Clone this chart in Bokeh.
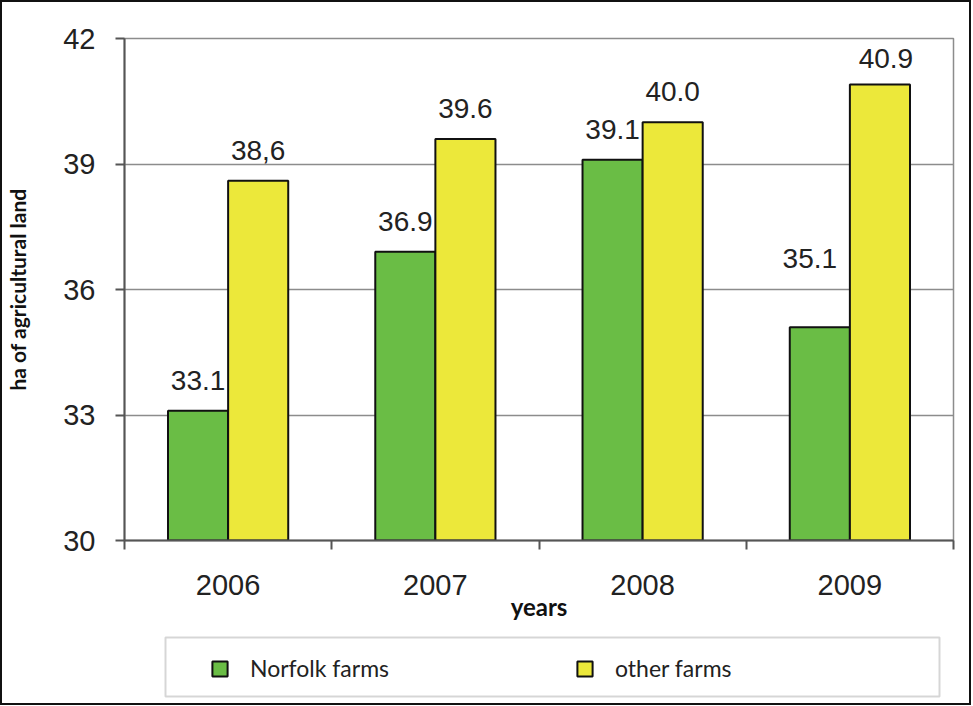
from bokeh.plotting import figure
from bokeh.layouts import column
from bokeh.models import (ColumnDataSource, FixedTicker, LabelSet, Legend, LegendItem,
                          Range1d, BoxAnnotation)
from bokeh.transform import dodge
from bokeh.core.properties import value
from bokeh.embed import file_html
from bokeh.resources import INLINE

# ---- data ----
years = ["2006", "2007", "2008", "2009"]
norfolk = [33.1, 36.9, 39.1, 35.1]
other = [38.6, 39.6, 40.0, 40.9]
norfolk_labels = ["33.1", "36.9", "39.1", "35.1"]
other_labels = ["38,6", "39.6", "40.0", "40.9"]
y_ticks = [30, 33, 36, 39, 42]
series_names = ["Norfolk farms", "other farms"]

# ---- label nudges (px, layout only) ----
norfolk_dx = [0, 0, 0, -10]
norfolk_dy = [21, 21, 21, 59]
other_dx = [0, 0, 0, 6]
other_dy = [21, 21, 21, 17]

GREEN = "#6abd45"
YELLOW = "#ece83a"
GRID = "#8c8c8c"
AXIS = "#555555"
BORDER = "2px solid #111111"

xs = [i + 0.5 for i in range(len(years))]
src = ColumnDataSource(dict(x=xs, norfolk=norfolk, other=other,
                            nl=norfolk_labels, ol=other_labels,
                            ndx=norfolk_dx, ndy=norfolk_dy, odx=other_dx, ody=other_dy))

p = figure(width=971, height=626, output_backend="svg", toolbar_location=None,
           x_range=Range1d(0, len(years)), y_range=Range1d(y_ticks[0], y_ticks[-1]),
           min_border_left=122, min_border_right=20, min_border_top=36, min_border_bottom=88,
           styles={"border-left": BORDER, "border-right": BORDER, "border-top": BORDER})

p.background_fill_color = "white"
p.border_fill_color = "white"
p.outline_line_color = GRID
p.outline_line_width = 1.5

bar_kw = dict(bottom=0, width=0.29, source=src, line_color="#111111", line_width=2)
p.vbar(x=dodge("x", -0.145), top="norfolk", fill_color=GREEN, **bar_kw)
p.vbar(x=dodge("x", 0.145), top="other", fill_color=YELLOW, **bar_kw)

lab_kw = dict(text_font=value("Liberation Sans"), text_font_size="28px", text_color="#222222",
              text_align="center", text_baseline="alphabetic", source=src)
p.add_layout(LabelSet(x=dodge("x", -0.145), y="norfolk", text="nl",
                      x_offset="ndx", y_offset="ndy", **lab_kw))
p.add_layout(LabelSet(x=dodge("x", 0.145), y="other", text="ol",
                      x_offset="odx", y_offset="ody", **lab_kw))

# grid
p.xgrid.visible = False
p.ygrid.ticker = FixedTicker(ticks=y_ticks)
p.ygrid.grid_line_color = GRID
p.ygrid.grid_line_width = 1.5

# y axis
ya = p.yaxis[0]
ya.ticker = FixedTicker(ticks=y_ticks)
ya.axis_label = "ha of agricultural land"
ya.axis_label_text_font = "Lato"
ya.axis_label_text_font_style = "bold"
ya.axis_label_text_font_size = "21px"
ya.axis_label_text_color = "#111111"
ya.axis_label_standoff = 30
ya.major_label_text_font = "Liberation Sans"
ya.major_label_text_font_size = "29px"
ya.major_label_text_color = "#222222"
ya.major_label_standoff = 20
ya.major_tick_out = 9
ya.major_tick_in = 0
ya.minor_tick_out = 0
ya.minor_tick_in = 0
ya.axis_line_color = AXIS
ya.axis_line_width = 2
ya.major_tick_line_color = AXIS
ya.major_tick_line_width = 2

# x axis
xa = p.xaxis[0]
xa.ticker = FixedTicker(ticks=xs, minor_ticks=list(range(len(years) + 1)))
xa.major_label_overrides = {x: y for x, y in zip(xs, years)}
xa.axis_label = "years"
xa.axis_label_text_font = "Lato"
xa.axis_label_text_font_style = "bold"
xa.axis_label_text_font_size = "24px"
xa.axis_label_text_color = "#111111"
xa.axis_label_standoff = -6
xa.major_label_text_font = "Liberation Sans"
xa.major_label_text_font_size = "29px"
xa.major_label_text_color = "#222222"
xa.major_label_standoff = 25
xa.major_tick_out = 0
xa.major_tick_in = 0
xa.minor_tick_out = 9
xa.minor_tick_in = 0
xa.minor_tick_line_color = AXIS
xa.minor_tick_line_width = 2
xa.axis_line_color = AXIS
xa.axis_line_width = 2

# ---- legend strip (own figure, keys drawn from hidden copies of the bars) ----
lg = figure(width=971, height=79, output_backend="svg", toolbar_location=None,
            x_range=Range1d(0, len(years)), y_range=Range1d(y_ticks[0], y_ticks[-1]),
            min_border_left=0, min_border_right=0, min_border_top=0, min_border_bottom=0,
            styles={"border-left": BORDER, "border-right": BORDER, "border-bottom": BORDER})
lg.axis.visible = False
lg.grid.visible = False
lg.outline_line_color = None
lg.background_fill_color = "white"
lg.border_fill_color = "white"
k1 = lg.vbar(x=dodge("x", -0.145), top="norfolk", fill_color=GREEN, visible=False, **bar_kw)
k2 = lg.vbar(x=dodge("x", 0.145), top="other", fill_color=YELLOW, visible=False, **bar_kw)

lg.add_layout(BoxAnnotation(left=161, right=935, top=11, bottom=70,
                            left_units="canvas", right_units="canvas",
                            top_units="canvas", bottom_units="canvas",
                            fill_alpha=0, line_color="#777777", line_width=2))

legend = Legend(items=[LegendItem(label=series_names[0], renderers=[k1]),
                       LegendItem(label=series_names[1], renderers=[k2])],
                orientation="horizontal", location=(86, 23),
                glyph_width=19, glyph_height=19, label_standoff=21,
                label_width=300, label_height=19, spacing=25,
                padding=0, margin=0, border_line_alpha=0, background_fill_alpha=0,
                label_text_font="Lato", label_text_font_size="23px",
                label_text_color="#222222")
lg.add_layout(legend, "center")

layout = column(p, lg, spacing=0)
open("out.html", "w").write(file_html(layout, INLINE))
